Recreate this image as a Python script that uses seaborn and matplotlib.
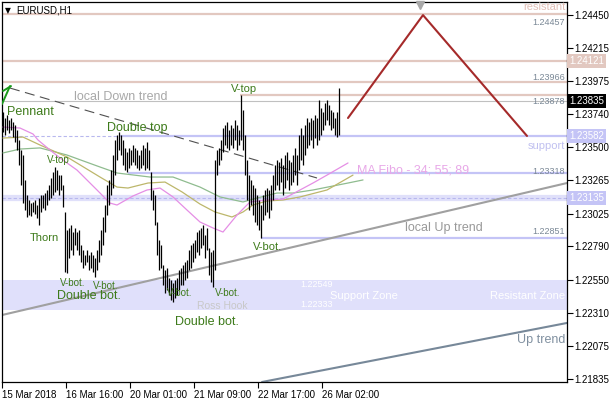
import matplotlib
matplotlib.use("Agg")
import matplotlib.pyplot as plt
import matplotlib.transforms as mtransforms
import seaborn as sns
import numpy as np

# barres H1 EURUSD (hauts / bas)
highs = [
    1.23754, 1.23711, 1.23732, 1.23696, 1.23711, 1.23682, 1.23661, 1.23625, 1.23553, 1.23481,
    1.23445, 1.23266, 1.23158, 1.23122, 1.23100, 1.23108, 1.23122, 1.23086, 1.23136, 1.23158,
    1.23158, 1.23172, 1.23194, 1.23230, 1.23280, 1.23323, 1.23359, 1.23337, 1.23301, 1.23301,
    1.23230, 1.23036, 1.22907, 1.22921, 1.22943, 1.22892, 1.22921, 1.22892, 1.22907, 1.22799,
    1.22763, 1.22727, 1.22763, 1.22727, 1.22749, 1.22727, 1.22706, 1.22763, 1.22835, 1.22907,
    1.23000, 1.23086, 1.23230, 1.23266, 1.23337, 1.23445, 1.23553, 1.23589, 1.23610, 1.23589,
    1.23553, 1.23496, 1.23467, 1.23496, 1.23481, 1.23517, 1.23496, 1.23481, 1.23445, 1.23481,
    1.23517, 1.23496, 1.23538, 1.23481, 1.23323, 1.23194, 1.23158, 1.22964, 1.22835, 1.22799,
    1.22656, 1.22620, 1.22634, 1.22562, 1.22548, 1.22526, 1.22548, 1.22562, 1.22620, 1.22634,
    1.22656, 1.22677, 1.22692, 1.22763, 1.22799, 1.22813, 1.22835, 1.22892, 1.22907, 1.22921,
    1.22943, 1.22871, 1.22921, 1.22778, 1.22749, 1.22763, 1.23409, 1.23481, 1.23496, 1.23553,
    1.23639, 1.23661, 1.23682, 1.23625, 1.23661, 1.23639, 1.23696, 1.23661, 1.23625, 1.23876,
    1.23768, 1.23589, 1.23409, 1.23301, 1.23266, 1.23230, 1.23208, 1.23158, 1.23122, 1.23086,
    1.23158, 1.23194, 1.23208, 1.23194, 1.23230, 1.23301, 1.23373, 1.23409, 1.23395, 1.23424,
    1.23373, 1.23445, 1.23467, 1.23409, 1.23395, 1.23445, 1.23496, 1.23445, 1.23589, 1.23639,
    1.23589, 1.23661, 1.23711, 1.23682, 1.23711, 1.23696, 1.23732, 1.23711, 1.23840, 1.23783,
    1.23754, 1.23818, 1.23840, 1.23804, 1.23768, 1.23754, 1.23711, 1.23754, 1.23926,
]
lows = [
    1.23610, 1.23589, 1.23625, 1.23603, 1.23625, 1.23574, 1.23538, 1.23481, 1.23373, 1.23230,
    1.23100, 1.23050, 1.23000, 1.23014, 1.23007, 1.23036, 1.23021, 1.22993, 1.22943, 1.23036,
    1.23064, 1.23050, 1.23086, 1.23122, 1.23136, 1.23158, 1.23180, 1.23194, 1.23158, 1.23194,
    1.23072, 1.22606, 1.22598, 1.22706, 1.22763, 1.22727, 1.22799, 1.22763, 1.22727, 1.22677,
    1.22634, 1.22656, 1.22677, 1.22620, 1.22634, 1.22606, 1.22569, 1.22620, 1.22677, 1.22727,
    1.22799, 1.22892, 1.23014, 1.23086, 1.23158, 1.23208, 1.23301, 1.23409, 1.23481, 1.23445,
    1.23373, 1.23337, 1.23323, 1.23352, 1.23373, 1.23395, 1.23373, 1.23352, 1.23337, 1.23352,
    1.23373, 1.23337, 1.23352, 1.23337, 1.23122, 1.23050, 1.22943, 1.22727, 1.22620, 1.22634,
    1.22512, 1.22454, 1.22476, 1.22440, 1.22404, 1.22390, 1.22418, 1.22440, 1.22476, 1.22512,
    1.22512, 1.22548, 1.22562, 1.22620, 1.22634, 1.22677, 1.22706, 1.22749, 1.22727, 1.22778,
    1.22799, 1.22706, 1.22763, 1.22584, 1.22533, 1.22497, 1.22620, 1.23301, 1.23373, 1.23409,
    1.23467, 1.23517, 1.23496, 1.23481, 1.23517, 1.23496, 1.23553, 1.23481, 1.23517, 1.23553,
    1.23481, 1.23301, 1.23122, 1.23050, 1.23086, 1.23014, 1.22964, 1.22943, 1.22907, 1.22849,
    1.22978, 1.23014, 1.23036, 1.22993, 1.23050, 1.23122, 1.23194, 1.23230, 1.23194, 1.23251,
    1.23158, 1.23208, 1.23266, 1.23194, 1.23230, 1.23251, 1.23301, 1.23230, 1.23337, 1.23409,
    1.23373, 1.23445, 1.23496, 1.23517, 1.23553, 1.23496, 1.23567, 1.23517, 1.23553, 1.23589,
    1.23625, 1.23661, 1.23696, 1.23661, 1.23625, 1.23639, 1.23589, 1.23574, 1.23589,
]

# moyennes mobiles "MA Fibo" 34 / 55 / 89 (points lus)
ma34_x = [0, 8.5, 15, 17.5, 23.5, 28.5, 37, 47, 53.5, 57, 65, 72, 78.5, 85, 92, 98.5, 105, 110,
          117, 123.5, 132, 140, 148.5, 155, 162, 172.5]
ma34_y = [1.23646, 1.23639, 1.23596, 1.23553, 1.23481, 1.23424, 1.23337, 1.23194, 1.23100, 1.23086,
          1.23151, 1.23194, 1.23208, 1.23144, 1.23050, 1.22964, 1.22921, 1.22892,
          1.23014, 1.23108, 1.23122, 1.23129, 1.23194, 1.23244, 1.23301, 1.23388]
ma55_x = [0, 10, 18.5, 32, 48.5, 57, 62.5, 72.5, 81, 89.5, 98.5, 106, 114.5, 120, 125, 132, 140,
          148.5, 162, 175]
ma55_y = [1.23567, 1.23574, 1.23517, 1.23431, 1.23287, 1.23215, 1.23208, 1.23244, 1.23251, 1.23180,
          1.23093, 1.23036, 1.23000, 1.23036, 1.23086, 1.23115, 1.23122, 1.23144, 1.23194, 1.23301]
ma89_x = [0, 8.5, 18.5, 32, 48.5, 57, 73.5, 85, 98.5, 108.5, 120, 127, 137, 145, 155, 172.5, 180]
ma89_y = [1.23460, 1.23488, 1.23496, 1.23445, 1.23359, 1.23316, 1.23287, 1.23287, 1.23215, 1.23144,
          1.23108, 1.23136, 1.23172, 1.23172, 1.23194, 1.23244, 1.23266]

# prevision (ligne rouge)
prev_x = [172.5, 210, 262]
prev_y = [1.23711, 1.24450, 1.23582]

# niveaux
resistances = [1.24457, 1.24121, 1.23966]
v_top_level = 1.23878
bid = 1.23835
support_main = 1.23582
support_2 = 1.23318
pivot = 1.23135
support_vbot = 1.22851
zone_haut = 1.22549
zone_bas = 1.22333

y_ticks = [1.24450, 1.24215, 1.23975, 1.23740, 1.23500, 1.23265, 1.23025, 1.22790,
           1.22550, 1.22310, 1.22075, 1.21835]
x_ticks = [0, 32, 64, 96, 128, 160]
x_labels = ["15 Mar 2018", "16 Mar 16:00", "20 Mar 01:00", "21 Mar 09:00",
            "22 Mar 17:00", "26 Mar 02:00"]

sns.set_theme(style="white")
plt.rcParams['font.family'] = ['Liberation Sans', 'DejaVu Sans']

fig = plt.figure(figsize=(6.1, 4.0), dpi=100)
ax = fig.add_axes([2 / 610, 18 / 400, 565 / 610, 380 / 400])
xmin, xmax = -0.5, 282
ax.set_xlim(xmin, xmax)
ax.set_ylim(1.21815, 1.24544)

C_RES = '#e2c8c0'
C_SUP = '#c4c4f6'
C_TXT = '#3d7a1a'

# zone support / resistance
ax.axhspan(zone_bas, zone_haut, color='#e0e0fb', lw=0, zorder=0)
# niveaux horizontaux
for r in resistances:
    ax.axhline(r, color=C_RES, lw=1.6, zorder=1)
ax.hlines(v_top_level, 118.5, xmax, color=C_RES, lw=1.6, zorder=1)
ax.axhline(bid, color='#c0c0c0', lw=0.8, zorder=1)
ax.hlines(support_main, xmin, 58.5, color='#b8b8ee', lw=0.8, linestyles=(0, (3, 2)), zorder=1)
ax.hlines(support_main, 58.5, xmax, color=C_SUP, lw=1.6, zorder=1)
ax.hlines(support_2, 62.5, xmax, color=C_SUP, lw=1.6, zorder=1)
ax.axhline(pivot, color='#e0e0fa', lw=4.5, zorder=1)
ax.axhline(pivot, color='#b8b8ee', lw=0.8, ls=(0, (3, 2)), zorder=1)
ax.hlines(support_vbot, 129, xmax, color=C_SUP, lw=1.6, zorder=1)

# lignes de tendance
ax.plot([3.5, 157], [1.23926, 1.23280], color='#505050', lw=0.8, ls=(0, (9, 5)), zorder=2)
ax.plot([-0.5, 282], [1.22296, 1.23244], color='#a0a0a0', lw=1.5, zorder=2)
ax.plot([129.5, 282], [1.21815, 1.22239], color='#778899', lw=1.5, zorder=2)
ax.plot([-0.5, 3.5], [1.23811, 1.23940], color='#1a9a1a', lw=1.4, zorder=3)
ax.plot([0, 4], [1.23905, 1.23940], color='#1a9a1a', lw=1.4, zorder=3)

# moyennes mobiles
sns.lineplot(x=ma89_x, y=ma89_y, ax=ax, color='#8fbc8f', lw=0.9, zorder=3)
sns.lineplot(x=ma55_x, y=ma55_y, ax=ax, color='#bdb76b', lw=0.9, zorder=3)
sns.lineplot(x=ma34_x, y=ma34_y, ax=ax, color='#e58ee5', lw=0.9, zorder=3)

# barres
idx = np.arange(len(highs))
ax.vlines(idx, lows, highs, colors='black', lw=0.9, zorder=4)

# prevision
sns.lineplot(x=prev_x, y=prev_y, ax=ax, color='#a52a2a', lw=1.5, zorder=5)

# textes des figures
def txt(x, y, s, size=9, color=C_TXT, ha='left'):
    ax.text(x, y, s, fontsize=size, color=color, ha=ha, va='center', zorder=6)

txt(2, 1.23754, "Pennant")
txt(35.5, 1.23862, "local Down trend", color='#a8a8a8')
txt(52, 1.23639, "Double top")
txt(22, 1.23409, "V-top", 7)
txt(114, 1.23919, "V-top", 8)
txt(13.5, 1.22849, "Thorn", 8)
txt(28.5, 1.22526, "V-bot.", 7)
txt(45, 1.22505, "V-bot.", 7)
txt(27, 1.22433, "Double bot.")
txt(82, 1.22454, "V-bot.", 7)
txt(86, 1.22246, "Double bot.")
txt(125, 1.22785, "V-bot.", 8)
txt(106, 1.22454, "V-bot.", 7)
txt(97, 1.22361, "Ross Hook", 7.5, '#c8c8c8')
txt(177, 1.23337, "MA Fibo - 34; 55; 89", 9, '#e8a8e8')
txt(201, 1.22921, "local Up trend", 9, '#999999')
txt(148.5, 1.22513, "1.22549", 6.5, 'white')
txt(148.5, 1.22369, "1.22333", 6.5, 'white')
txt(163.5, 1.22433, "Support Zone", 8, 'white')
txt(281, 1.22433, "Resistant Zone", 8, 'white', ha='right')
txt(281, 1.24508, "resistant", 8, '#e2c0b8', ha='right')
txt(281, 1.23510, "support", 8, '#c0c0f0', ha='right')
txt(281, 1.22117, "Up trend", 9, '#8090a0', ha='right')
for lab, yy in [("1.24457", 1.24400), ("1.23966", 1.24005), ("1.23878", 1.23833),
                ("1.23318", 1.23330), ("1.22851", 1.22899)]:
    txt(281, yy, lab, 6.5, '#7a8896', ha='right')

# repere de decalage du graphique
ax.plot([208.5], [1.24522], marker='v', color='#a8a8a8', ms=6, clip_on=False, zorder=6)

# titre
ax.text(0.006, 0.978, "\u25bc", transform=ax.transAxes, fontsize=5.5, va='center',
        family='DejaVu Sans', color='black')
ax.text(0.026, 0.978, "EURUSD,H1", transform=ax.transAxes, fontsize=7, va='center', color='black')

# axes
for s in ax.spines.values():
    s.set_color('black')
    s.set_linewidth(0.9)
ax.yaxis.tick_right()
ax.set_yticks(y_ticks)
ax.set_yticklabels([f"{v:.5f}" for v in y_ticks])
ax.tick_params(axis='y', direction='out', length=4, width=0.8, pad=1.5, labelsize=7,
               colors='black', right=True, left=False)
ax.set_xticks([t - 0.5 for t in x_ticks])
ax.set_xticklabels(x_labels, ha='left')
ax.tick_params(axis='x', direction='out', length=4, width=0.8, pad=1.5, labelsize=7,
               colors='black', bottom=True)
ax.grid(False)
ax.set_xlabel("")
ax.set_ylabel("")
if ax.get_legend():
    ax.get_legend().remove()

# etiquettes de prix sur l'axe
trans = mtransforms.blended_transform_factory(ax.transAxes, ax.transData)
for val, bg in [(1.24121, C_RES), (bid, 'black'), (support_main, C_SUP), (pivot, C_SUP)]:
    ax.text(1.004, val, f"{val:.5f}", transform=trans, fontsize=7, color='white',
            va='center', ha='left', clip_on=False, zorder=7,
            bbox=dict(boxstyle='square,pad=0.22', fc=bg, ec='none'))

fig.savefig("out.png", dpi=100)
